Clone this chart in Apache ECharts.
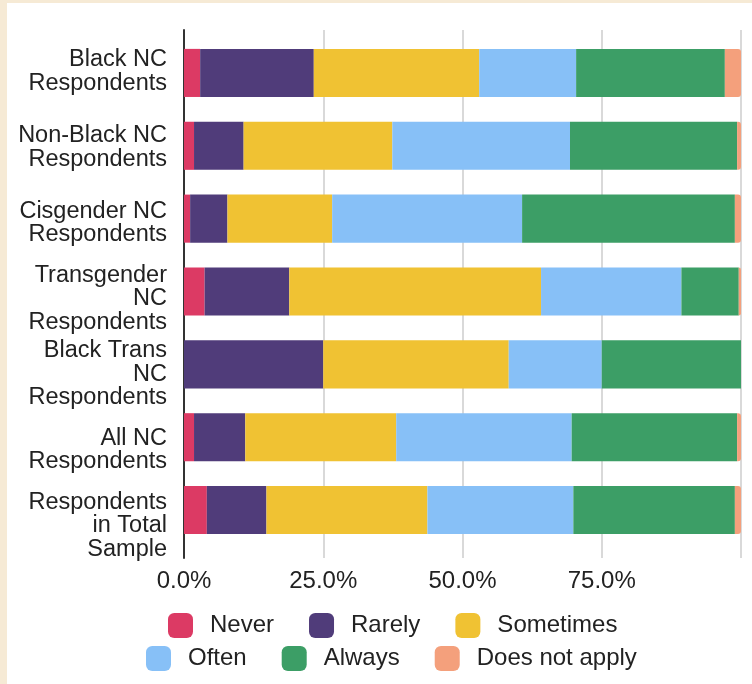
<!DOCTYPE html>
<html>
<head>
<meta charset="utf-8">
<script src="https://cdn.jsdelivr.net/npm/echarts@6/dist/echarts.min.js"></script>
<style>
  html, body { margin: 0; padding: 0; width: 752px; height: 684px; background: #f6ead5; overflow: hidden; }
  #chart { position: absolute; left: 7px; top: 3px; width: 745px; height: 681px; background: #ffffff; }
</style>
</head>
<body>
<div id="chart"></div>
<script>
// ---- data ----
const categories = [
  'Black NC\nRespondents',
  'Non-Black NC\nRespondents',
  'Cisgender NC\nRespondents',
  'Transgender\nNC\nRespondents',
  'Black Trans\nNC\nRespondents',
  'All NC\nRespondents',
  'Respondents\nin Total\nSample'
];
const seriesNames = ['Never', 'Rarely', 'Sometimes', 'Often', 'Always', 'Does not apply'];
const never      = [2.9, 1.8, 1.1, 3.7, 0.0, 1.8, 4.1];
const rarely     = [20.4, 8.9, 6.7, 15.2, 25.0, 9.2, 10.7];
const sometimes  = [29.7, 26.7, 18.8, 45.2, 33.3, 27.1, 28.9];
const often      = [17.4, 31.9, 34.1, 25.2, 16.7, 31.5, 26.2];
const always     = [26.7, 30.0, 38.2, 10.3, 25.0, 29.7, 29.0];
const doesNotApply = [2.9, 0.7, 1.1, 0.4, 0.0, 0.7, 1.1];
const xTicks = [0, 25, 50, 75];
// ---- style ----
const colors = ['#dc3a64', '#503c7a', '#f0c233', '#87c0f7', '#3c9e66', '#f4a07c'];
const values = [never, rarely, sometimes, often, always, doesNotApply];
const font = '"Liberation Sans", Arial, sans-serif';

const chart = echarts.init(document.getElementById('chart'), null, { renderer: 'canvas' });

const series = seriesNames.map((name, i) => ({
  name: name,
  type: 'bar',
  stack: 'total',
  xAxisIndex: 0,
  yAxisIndex: 0,
  barWidth: '66%',
  itemStyle: {
    color: colors[i],
    borderRadius: i === seriesNames.length - 1 ? [0, 3, 3, 0] : 0
  },
  emphasis: { disabled: true },
  data: values[i]
}));

const legendBase = {
  orient: 'horizontal',
  icon: 'roundRect',
  padding: 0,
  itemWidth: 25, itemHeight: 25, itemGap: 35,
  selectedMode: false,
  textStyle: { color: '#222222', fontFamily: font, fontSize: 24, padding: [0, 0, 0, 12] }
};

chart.setOption({
  animation: false,
  backgroundColor: '#ffffff',
  color: colors,
  grid: [
    { left: 177, width: 557, top: 33.5, height: 510 },   // bars
    { left: 177, width: 557, top: 30.7, height: 530 },   // category labels
    { left: 177, width: 557, top: 27, height: 528 }      // gridlines + axis line
  ],
  xAxis: [
    { gridIndex: 0, type: 'value', min: 0, max: 100, show: false },
    { gridIndex: 1, type: 'value', min: 0, max: 100, show: false },
    {
      gridIndex: 2, type: 'value', min: 0, max: 100, interval: 25,
      axisLine: { show: false }, axisTick: { show: false },
      splitLine: { show: true, lineStyle: { color: '#cccccc', width: 1.5 } },
      axisLabel: {
        margin: 11,
        color: '#222222',
        fontFamily: font,
        fontSize: 24,
        formatter: v => xTicks.indexOf(v) >= 0 ? v.toFixed(1) + '%' : ''
      }
    }
  ],
  yAxis: [
    { gridIndex: 0, type: 'category', data: categories, inverse: true, show: false },
    {
      gridIndex: 1, type: 'category', data: categories, inverse: true,
      axisLine: { show: false }, axisTick: { show: false }, splitLine: { show: false },
      axisLabel: {
        margin: 17,
        color: '#222222',
        fontFamily: font,
        fontSize: 23.5,
        lineHeight: 23.5,
        align: 'right'
      }
    },
    {
      gridIndex: 2, type: 'value', min: 0, max: 1,
      axisLine: { show: true, lineStyle: { color: '#333333', width: 2 } },
      axisTick: { show: false }, axisLabel: { show: false }, splitLine: { show: false }
    }
  ],
  legend: [
    Object.assign({ data: seriesNames.slice(0, 3), left: 161, top: 610 }, legendBase),
    Object.assign({ data: seriesNames.slice(3), left: 139, top: 643 }, legendBase)
  ],
  series: series
});
</script>
</body>
</html>
